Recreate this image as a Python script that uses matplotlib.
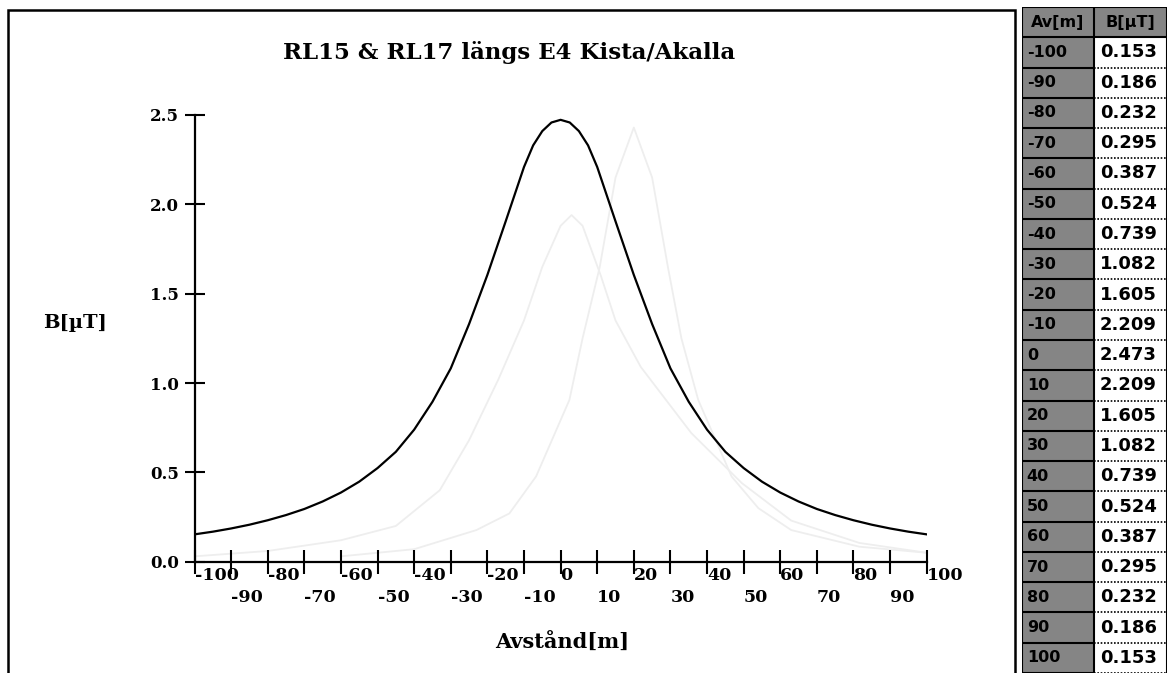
import matplotlib
matplotlib.use("Agg")
import matplotlib.pyplot as plt
from matplotlib.patches import Rectangle

# table on the right
table_x = [-100, -90, -80, -70, -60, -50, -40, -30, -20, -10, 0,
           10, 20, 30, 40, 50, 60, 70, 80, 90, 100]
table_b = [0.153, 0.186, 0.232, 0.295, 0.387, 0.524, 0.739, 1.082, 1.605, 2.209, 2.473,
           2.209, 1.605, 1.082, 0.739, 0.524, 0.387, 0.295, 0.232, 0.186, 0.153]

# main curve (table values + points read between them)
curve_x = [-100, -95, -90, -85, -80, -75, -70, -65, -60, -55, -50, -45, -40, -35, -30,
           -25, -20, -15, -10, -7.5, -5, -2.5, 0, 2.5, 5, 7.5, 10, 15, 20, 25, 30,
           35, 40, 45, 50, 55, 60, 65, 70, 75, 80, 85, 90, 95, 100]
curve_b = [0.153, 0.168, 0.186, 0.207, 0.232, 0.261, 0.295, 0.337, 0.387, 0.448, 0.524,
           0.615, 0.739, 0.895, 1.082, 1.33, 1.605, 1.905, 2.209, 2.33, 2.41, 2.458,
           2.473, 2.458, 2.41, 2.33, 2.209, 1.905, 1.605, 1.33, 1.082, 0.895, 0.739,
           0.615, 0.524, 0.448, 0.387, 0.337, 0.295, 0.261, 0.232, 0.207, 0.186, 0.168, 0.153]

# faint show-through curves from the back of the page
ghost1_x = [-60, -40, -23, -14, -6.7, 2.4, 6, 10.7, 15, 20, 25, 29.3, 33, 37.6, 46.7, 54, 63, 81.6, 100]
ghost1_b = [0.03, 0.07, 0.177, 0.27, 0.477, 0.905, 1.25, 1.65, 2.15, 2.43, 2.15, 1.65, 1.25,
            0.905, 0.477, 0.30, 0.177, 0.084, 0.05]
ghost2_x = [-100, -80, -60, -45, -33, -25, -17, -10, -5, 0, 3, 6, 11, 15, 21.9, 35.7, 49.5, 63, 81.6, 100]
ghost2_b = [0.03, 0.06, 0.12, 0.2, 0.4, 0.68, 1.02, 1.35, 1.65, 1.88, 1.94, 1.88, 1.6, 1.35,
            1.09, 0.72, 0.44, 0.23, 0.105, 0.05]

x_major = list(range(-100, 101, 20))
x_minor = list(range(-90, 91, 20))
y_ticks = [0.0, 0.5, 1.0, 1.5, 2.0, 2.5]
y_labels = ["0.0", "0.5", "1.0", "1.5", "2.0", "2.5"]

W, H = 1174, 673
serif = dict(family="DejaVu Serif", weight="bold")
sans = dict(family="DejaVu Sans", weight="bold")

fig = plt.figure(figsize=(W / 100, H / 100), dpi=100)
fig.patch.set_facecolor("white")

ax = fig.add_axes([194.5 / W, 1 - 561.7 / H, 732.2 / W, 446.7 / H])
ax.plot(ghost1_x, ghost1_b, color="#eeeeee", lw=1.3, zorder=1)
ax.plot(ghost2_x, ghost2_b, color="#eeeeee", lw=1.3, zorder=1)
ax.plot(curve_x, curve_b, color="black", lw=1.6, zorder=3)
ax.set_xlim(-100, 100)
ax.set_ylim(0, 2.5)
for s in ["top", "right"]:
    ax.spines[s].set_visible(False)
for s in ["left", "bottom"]:
    ax.spines[s].set_linewidth(1.6)
ax.patch.set_alpha(0)

# staggered x labels: even tens on the upper row, odd tens below
ax.set_xticks(x_major)
ax.set_xticklabels([str(v) for v in x_major], ha="left", fontsize=12.5, **serif)
ax.set_xticks(x_minor, minor=True)
ax.set_xticklabels([str(v) for v in x_minor], minor=True, ha="left", fontsize=12.5, **serif)
ax.set_yticks(y_ticks)
ax.set_yticklabels(y_labels, fontsize=12, **serif)
ax.tick_params(axis="x", which="major", direction="inout", length=17, width=1.5, pad=-5)
ax.tick_params(axis="x", which="minor", direction="inout", length=17, width=1.5, pad=11.5)
ax.tick_params(axis="y", direction="inout", length=14, width=1.5, pad=4)

fig.text(509 / W, 1 - 52 / H, "RL15 & RL17 längs E4 Kista/Akalla",
         ha="center", va="center", fontsize=16.5, **serif)
fig.text(43 / W, 1 - 323 / H, "B[µT]", ha="left", va="center", fontsize=14, **serif)
fig.text(562 / W, 1 - 643 / H, "Avstånd[m]", ha="center", va="center", fontsize=15, **serif)

# outer frame around the chart
fig.add_artist(Rectangle((8 / W, -0.02), (1015 - 8) / W, 1 - 10 / H + 0.02,
                         transform=fig.transFigure, fill=False, lw=1.8, ec="black"))

# value table
tax = fig.add_axes([1021.7 / W, 0, (1166.7 - 1021.7) / W, (H - 7) / H])
tax.set_xlim(0, 2)
tax.set_ylim(22, 0)
tax.axis("off")
nrows = len(table_x) + 1
for i in range(nrows):
    tax.add_patch(Rectangle((0, i), 1, 1, fc="#858585", ec="none"))
    tax.add_patch(Rectangle((1, i), 1, 1, fc="#858585" if i == 0 else "white", ec="none"))
tax.hlines(range(nrows + 1), 0, 1, color="black", lw=1.5)
tax.hlines([0, 1], 1, 2, color="black", lw=1.5)
tax.hlines(range(2, nrows + 1), 1, 2, color="black", lw=1.2, linestyles=(0, (1, 1)))
tax.vlines([0, 1, 2], 0, nrows, color="black", lw=1.5)

tax.text(0.5, 0.5, "Av[m]", ha="center", va="center", fontsize=11.5, **sans)
tax.text(1.5, 0.5, "B[µT]", ha="center", va="center", fontsize=11.5, **sans)
for i, (xv, bv) in enumerate(zip(table_x, table_b)):
    tax.text(0.07, i + 1.5, str(xv), ha="left", va="center", fontsize=11.5, **sans)
    tax.text(1.08, i + 1.5, f"{bv:.3f}", ha="left", va="center", fontsize=13, **sans)

fig.savefig("out.png", dpi=100)
